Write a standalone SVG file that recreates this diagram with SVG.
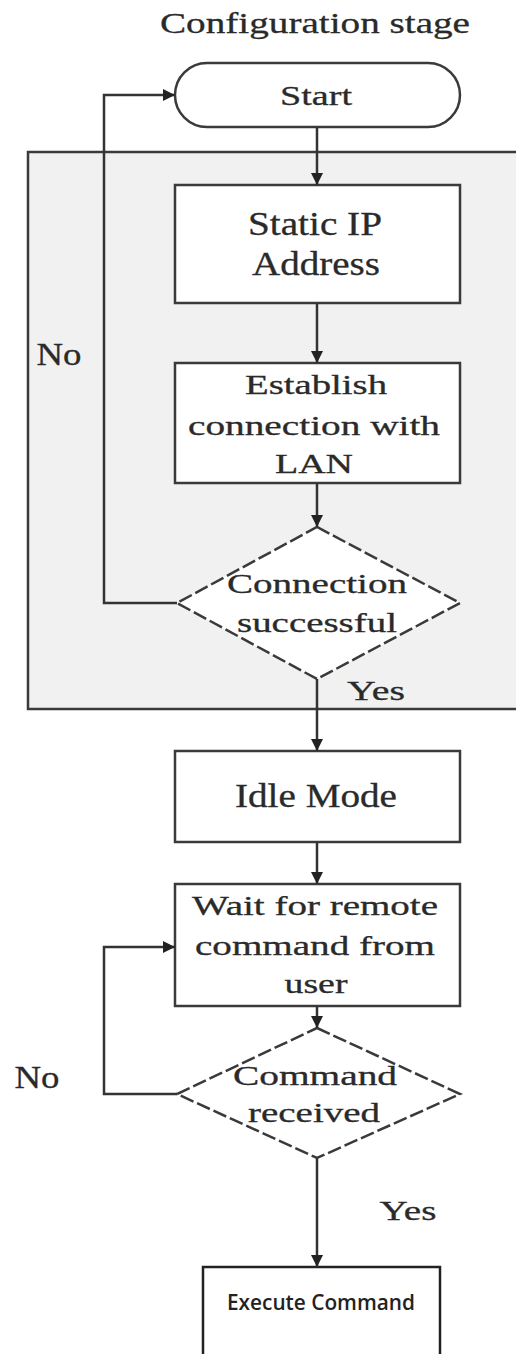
<svg xmlns="http://www.w3.org/2000/svg" width="516" height="1354" viewBox="0 0 516 1354">
<defs>
<style>
.t{font-family:"Liberation Serif","Times New Roman",serif;fill:#2a2a2a;text-anchor:middle;stroke:#2a2a2a;stroke-width:0.3}
.b{fill:#fff;stroke:#3a3a3a;stroke-width:2.5}
.d{fill:#fff;stroke:#3a3a3a;stroke-width:2.5;stroke-dasharray:14 4}
.c{fill:none;stroke:#333;stroke-width:2.5}
</style>
<marker id="ah" viewBox="0 0 10 10" refX="10" refY="5" markerWidth="5" markerHeight="5" orient="auto" markerUnits="strokeWidth">
<path d="M0,0 L10,5 L0,10 z" fill="#222"/>
</marker>
</defs>
<rect width="516" height="1354" fill="#fff"/>
<text class="t" x="315" y="33" font-size="30" textLength="310" lengthAdjust="spacingAndGlyphs">Configuration stage</text>
<g id="stage">
<rect x="28" y="152" width="500" height="557" fill="#f1f1f1" stroke="#3a3a3a" stroke-width="2.5"/>
</g>
<g id="start">
<rect class="b" x="175" y="63" width="285" height="64" rx="32"/>
<text class="t" x="316" y="105" font-size="27" textLength="72" lengthAdjust="spacingAndGlyphs">Start</text>
</g>
<g id="static">
<rect class="b" x="175" y="185" width="285" height="118"/>
<text class="t" x="315" y="235" font-size="33" textLength="134" lengthAdjust="spacingAndGlyphs">Static IP</text>
<text class="t" x="316" y="275" font-size="33" textLength="128" lengthAdjust="spacingAndGlyphs">Address</text>
</g>
<g id="establish">
<rect class="b" x="175" y="363" width="285" height="120"/>
<text class="t" x="316" y="394" font-size="27" textLength="142" lengthAdjust="spacingAndGlyphs">Establish</text>
<text class="t" x="314" y="435" font-size="27" textLength="252" lengthAdjust="spacingAndGlyphs">connection with</text>
<text class="t" x="314" y="473" font-size="27" textLength="78" lengthAdjust="spacingAndGlyphs">LAN</text>
</g>
<g id="decision1">
<polygon class="d" points="317,527 460,603 317,679 177,603"/>
<text class="t" x="317" y="593" font-size="27" textLength="180" lengthAdjust="spacingAndGlyphs">Connection</text>
<text class="t" x="317" y="632" font-size="27" textLength="160" lengthAdjust="spacingAndGlyphs">successful</text>
</g>
<g id="idle">
<rect class="b" x="175" y="751" width="285" height="91"/>
<text class="t" x="316" y="807" font-size="33" textLength="162" lengthAdjust="spacingAndGlyphs">Idle Mode</text>
</g>
<g id="wait">
<rect class="b" x="175" y="884" width="285" height="122"/>
<text class="t" x="315" y="915" font-size="28" textLength="246" lengthAdjust="spacingAndGlyphs">Wait for remote</text>
<text class="t" x="315" y="955" font-size="28" textLength="240" lengthAdjust="spacingAndGlyphs">command from</text>
<text class="t" x="316" y="993" font-size="28" textLength="63" lengthAdjust="spacingAndGlyphs">user</text>
</g>
<g id="decision2">
<polygon class="d" points="317,1028 460,1094 317,1158 177,1094"/>
<text class="t" x="315" y="1085" font-size="27" textLength="164" lengthAdjust="spacingAndGlyphs">Command</text>
<text class="t" x="314" y="1122" font-size="27" textLength="132" lengthAdjust="spacingAndGlyphs">received</text>
</g>
<g id="execute">
<rect x="203" y="1267" width="237" height="100" fill="#fff" stroke="#222" stroke-width="2.5"/>
<text x="321" y="1310" font-family="'Open Sans','Noto Sans',sans-serif" font-size="22" font-weight="600" fill="#222" text-anchor="middle" textLength="188" lengthAdjust="spacingAndGlyphs">Execute Command</text>
</g>
<g id="labels">
<text class="t" x="59" y="365" font-size="32" textLength="45" lengthAdjust="spacingAndGlyphs">No</text>
<text class="t" x="376" y="700" font-size="27" textLength="58" lengthAdjust="spacingAndGlyphs">Yes</text>
<text class="t" x="37" y="1088" font-size="32" textLength="45" lengthAdjust="spacingAndGlyphs">No</text>
<text class="t" x="408" y="1220" font-size="27" textLength="57" lengthAdjust="spacingAndGlyphs">Yes</text>
</g>
<g id="connectors">
<path class="c" d="M317,127 V185" marker-end="url(#ah)"/>
<path class="c" d="M317,303 V363" marker-end="url(#ah)"/>
<path class="c" d="M317,483 V527" marker-end="url(#ah)"/>
<path class="c" d="M177,603 H104 V95 H175" marker-end="url(#ah)"/>
<path class="c" d="M317,679 V751" marker-end="url(#ah)"/>
<path class="c" d="M317,842 V884" marker-end="url(#ah)"/>
<path class="c" d="M317,1006 V1028" marker-end="url(#ah)"/>
<path class="c" d="M177,1094 H104 V947 H175" marker-end="url(#ah)"/>
<path class="c" d="M317,1158 V1267" marker-end="url(#ah)"/>
</g>
</svg>
